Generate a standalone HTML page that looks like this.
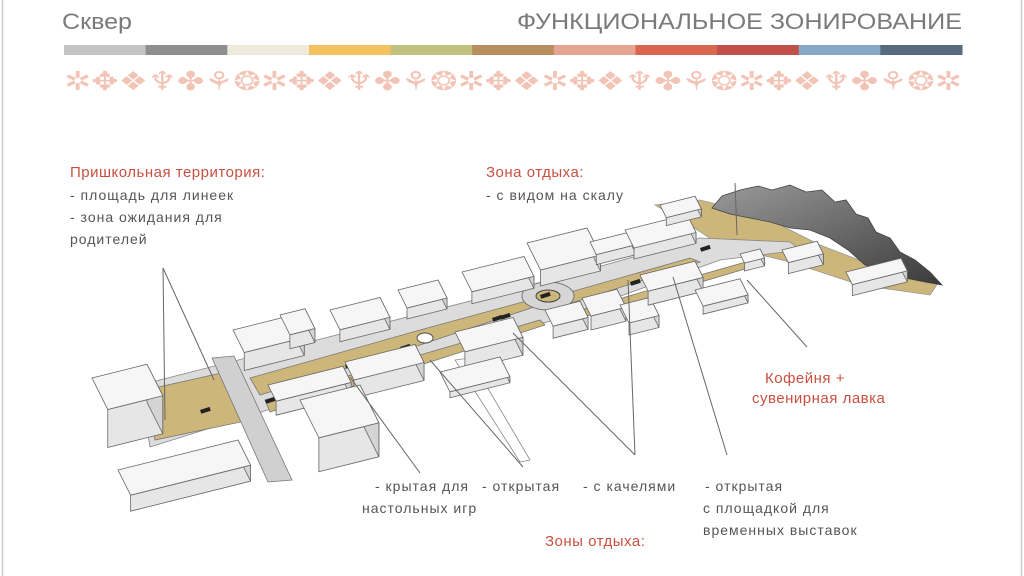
<!DOCTYPE html>
<html><head><meta charset="utf-8"><style>
html,body{margin:0;padding:0;background:#fff;}
body{width:1024px;height:576px;overflow:hidden;position:relative;font-family:"Liberation Sans",sans-serif;}
svg{position:absolute;left:0;top:0;}
.t{font-family:"Liberation Sans",sans-serif;font-size:14px;fill:#555;letter-spacing:1px;}
.r{font-family:"Liberation Sans",sans-serif;font-size:15px;fill:#c9503f;letter-spacing:0.5px;}
</style></head><body>
<svg id="s" width="1024" height="576" viewBox="0 0 1024 576">
<line x1="2.5" y1="0" x2="2.5" y2="576" stroke="#ccc" stroke-width="1.5"/>
<line x1="1021.5" y1="0" x2="1021.5" y2="576" stroke="#ccc" stroke-width="1.5"/>
<text x="62" y="29" font-family="Liberation Sans" font-size="22" fill="#7a7a7a" textLength="70" lengthAdjust="spacingAndGlyphs">Сквер</text>
<text x="962" y="29" text-anchor="end" font-family="Liberation Sans" font-size="22" fill="#7a7a7a" textLength="445" lengthAdjust="spacingAndGlyphs">ФУНКЦИОНАЛЬНОЕ ЗОНИРОВАНИЕ</text>
<g id="bar"></g>
<text x="64" y="90" font-family="DejaVu Sans" font-size="26" fill="#f2c4b6" textLength="898" lengthAdjust="spacingAndGlyphs">✲✥❖♆✤⚘❂✲✥❖♆✤⚘❂✲✥❖✲✥❖♆✤⚘❂✲✥❖♆✤⚘❂✲</text>
<g id="map"></g>
<g stroke="#666" stroke-width="1" fill="none">
<line x1="163" y1="268" x2="165" y2="420"/>
<line x1="163" y1="268" x2="214" y2="380"/>
<line x1="350" y1="377" x2="420" y2="473"/>
<line x1="430" y1="360" x2="523" y2="467"/>
<line x1="513" y1="333" x2="635" y2="455"/>
<line x1="628" y1="280" x2="635" y2="455"/>
<line x1="673" y1="277" x2="727" y2="455"/>
<line x1="747" y1="280" x2="807" y2="347"/>
<line x1="735" y1="183" x2="737" y2="235"/>
</g>
<text class="r" x="70" y="177">Пришкольная территория:</text>
<text class="t" x="70" y="200">- площадь для линеек</text>
<text class="t" x="70" y="222">- зона ожидания для</text>
<text class="t" x="70" y="244">родителей</text>
<text class="r" x="486" y="177">Зона отдыха:</text>
<text class="t" x="486" y="200">- с видом на скалу</text>
<text class="r" x="765" y="383">Кофейня +</text>
<text class="r" x="752" y="403">сувенирная лавка</text>
<text class="t" x="375" y="491">- крытая для</text>
<text class="t" x="362" y="513">настольных игр</text>
<text class="t" x="482" y="491">- открытая</text>
<text class="t" x="583" y="491">- с качелями</text>
<text class="t" x="705" y="491">- открытая</text>
<text class="t" x="703" y="513">с площадкой для</text>
<text class="t" x="703" y="535">временных выставок</text>
<text class="r" x="545" y="546">Зоны отдыха:</text>
</svg>
<script>
var NS="http://www.w3.org/2000/svg";
function el(p,n,a){var e=document.createElementNS(NS,n);for(var k in a)e.setAttribute(k,a[k]);p.appendChild(e);return e;}
var bar=document.getElementById("bar");
var cols=["#c3c3c3","#8e8e8e","#efeadb","#f5c262","#c2c07e","#b98e5f","#e4a593","#d9674f","#c2504a","#86a8c4","#566b80"];
var w=898/11;
cols.forEach(function(c,i){el(bar,"rect",{x:64+i*w,y:45,width:w+0.5,height:10,fill:c});});
var m=document.getElementById("map");
function poly(pts,f,s){return el(m,"polygon",{points:pts.map(function(p){return p[0]+","+p[1]}).join(" "),fill:f,stroke:s||"#777","stroke-width":0.8});}
// rock tan base
poly([[655,205],[700,200],[760,215],[820,245],[880,268],[938,283],[930,295],[860,285],[790,262],[720,245],[690,225]],"#cdb67a","#999");
// main road
poly([[140,385],[545,282],[700,238],[790,242],[800,250],[720,260],[560,318],[150,447]],"#dcdcdc","#888");
// tan strips
poly([[145,390],[235,370],[250,420],[155,440]],"#cdb67a","#777");
poly([[250,378],[420,330],[530,300],[540,305],[420,345],[260,395]],"#cdb67a","#777");
poly([[265,400],[420,355],[540,320],[545,325],[430,362],[270,412]],"#cdb67a","#777");
poly([[560,295],[690,258],[700,262],[565,305]],"#cdb67a","#777");
poly([[575,312],[700,275],[760,258],[765,263],[580,318]],"#cdb67a","#777");
// roundabout
el(m,"ellipse",{cx:548,cy:296,rx:26,ry:14,fill:"#d6d6d6",stroke:"#777"});
el(m,"ellipse",{cx:548,cy:296,rx:12,ry:6,fill:"#cdb67a",stroke:"#444"});
el(m,"ellipse",{cx:425,cy:338,rx:8,ry:5,fill:"#fff",stroke:"#555"});
// cross road
poly([[212,358],[234,356],[292,480],[268,482]],"#d0d0d0","#777");
poly([[455,360],[470,358],[530,460],[520,462]],"none","#888");
// rock
var rg=el(m,"linearGradient",{id:"rg",x1:0,y1:0,x2:1,y2:1});
el(rg,"stop",{offset:0,"stop-color":"#9a9a9a"});el(rg,"stop",{offset:0.5,"stop-color":"#6a6a6a"});el(rg,"stop",{offset:1,"stop-color":"#3a3a3a"});
poly([[712,208],[722,196],[740,190],[758,186],[772,190],[790,185],[806,192],[822,190],[835,202],[846,200],[856,214],[868,218],[876,232],[890,238],[900,252],[915,260],[930,272],[942,285],[925,282],[905,278],[885,272],[865,265],[848,250],[830,238],[810,230],[790,228],[770,222],[750,218],[730,214]],"url(#rg)","#444");
// benches
[[345,365],[355,362],[400,347],[492,318],[500,316],[630,282],[700,248],[265,400],[200,410],[540,295]].forEach(function(b){el(m,"rect",{x:b[0],y:b[1],width:10,height:4,fill:"#222",transform:"rotate(-18 "+b[0]+" "+b[1]+")"});});
// boxes
function box(x,y,W,D,H){
 var u=[1,-0.25],v=[0.45,0.9];
 var A=[x,y],B=[x+W*u[0],y+W*u[1]],C=[B[0]+D*v[0],B[1]+D*v[1]],Dd=[x+D*v[0],y+D*v[1]];
 poly([Dd,C,[C[0],C[1]+H],[Dd[0],Dd[1]+H]],"#e6e6e6","#666");
 poly([B,C,[C[0],C[1]+H],[B[0],B[1]+H]],"#d4d4d4","#666");
 poly([A,B,C,Dd],"#f6f6f6","#666");
}
[[92,378,55,35,38],[118,470,120,28,16],[233,330,60,25,18],[280,315,25,22,14],[330,310,50,22,12],[398,290,40,20,11],[462,272,62,22,12],[527,243,60,30,16],[590,242,40,14,10],[625,230,62,20,11],[268,385,75,18,14],[345,362,70,20,18],[300,400,60,42,34],[455,332,58,22,18],[440,372,60,22,6],[545,310,35,18,12],[582,298,35,20,14],[620,305,30,20,12],[640,275,55,18,14],[695,290,45,18,8],[782,250,35,14,11],[846,272,55,14,11],[660,205,35,14,8],[740,254,20,10,8]].forEach(function(b){box.apply(null,b);});
</script>
</body></html>
